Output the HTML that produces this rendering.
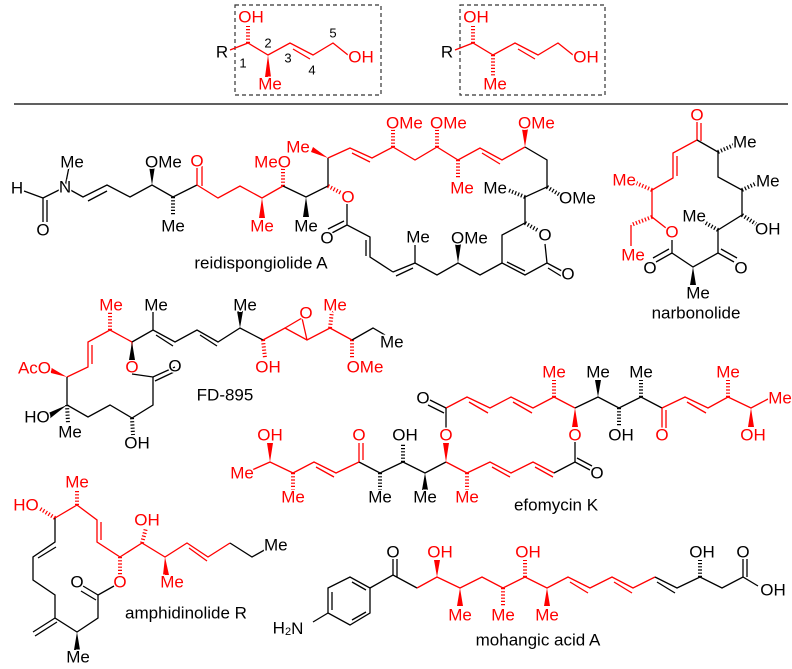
<!DOCTYPE html>
<html><head><meta charset="utf-8"><style>
html,body{margin:0;padding:0;background:#fff}
svg{display:block}
line,polyline{stroke:#000;stroke-width:1.3;fill:none}
.r{stroke:#f00}
.h{stroke-width:4;stroke-dasharray:1.2 2}
polygon{fill:#000}
polygon.r{fill:#f00;stroke:none}
polygon.ring{fill:none;stroke:#000;stroke-width:1.3}
text{font-family:"Liberation Sans",sans-serif;font-size:17px;text-anchor:middle;dominant-baseline:central;fill:#000;stroke:#fff;stroke-width:3;paint-order:stroke}
text.r{fill:#f00;stroke:#fff}
.s{text-anchor:start}.e{text-anchor:end}
.n{font-size:13px}
</style></head><body>
<svg width="792" height="669" viewBox="0 0 792 669" xmlns="http://www.w3.org/2000/svg">
<!-- top motifs -->
<rect x="235" y="5" width="146" height="90" fill="none" stroke="#333" stroke-width="1.2" stroke-dasharray="4 3"/>
<rect x="460" y="5" width="145" height="90" fill="none" stroke="#333" stroke-width="1.2" stroke-dasharray="4 3"/>
<polyline class="r" points="230,50 248,43 268,55 290,43 313,55 333,43 348,55"/>
<line class="r" x1="293" y1="49" x2="310" y2="59"/>
<line class="r h" x1="248" y1="43" x2="248" y2="26"/>
<polygon class="r" points="268,55 265,77 271,77"/>
<text x="222" y="52">R</text><text class="r" x="251" y="17">OH</text><text class="r" x="270" y="84">Me</text><text class="r" x="361" y="57">OH</text>
<text class="n" x="243" y="63">1</text><text class="n" x="268" y="43">2</text><text class="n" x="288" y="58">3</text><text class="n" x="312" y="70">4</text><text class="n" x="333" y="33">5</text>
<polyline class="r" points="455,50 473,43 493,55 515,43 538,55 558,43 573,55"/>
<line class="r" x1="518" y1="49" x2="535" y2="59"/>
<line class="r h" x1="473" y1="43" x2="473" y2="26"/>
<line class="r h" x1="493" y1="55" x2="493" y2="76"/>
<text x="447" y="52">R</text><text class="r" x="476" y="17">OH</text><text class="r" x="495" y="84">Me</text><text class="r" x="586" y="57">OH</text>
<line x1="14" y1="104" x2="788" y2="104" stroke-width="1.2"/>

<!-- reidispongiolide A -->
<line x1="24" y1="191" x2="43" y2="198"/><line x1="43" y1="198" x2="43" y2="222"/><line x1="47" y1="200" x2="47" y2="222"/>
<line x1="43" y1="198" x2="65" y2="187"/><line x1="65" y1="187" x2="70" y2="162"/>
<polyline points="65,187 83,197 107,185 130,197 152,185 173,197 197,185"/>
<line x1="88" y1="201" x2="107" y2="191"/>
<polygon points="152,185 149,166 155,166"/>
<line class="h" x1="173" y1="197" x2="173" y2="216"/>
<text x="17" y="188">H</text><text x="43" y="230">O</text><text x="65" y="187">N</text><text x="72" y="162">Me</text>
<text class="s" x="145" y="162">OMe</text><text x="173" y="226">Me</text>
<polyline class="r" points="197,185 218,198 240,186 262,198 283,186"/>
<line class="r" x1="197" y1="185" x2="197" y2="164"/><line class="r" x1="202" y1="186" x2="202" y2="166"/>
<text class="r" x="197" y="161">O</text>
<polygon class="r" points="262,198 259,218 265,218"/><text class="r" x="262" y="226">Me</text>
<line class="r h" x1="283" y1="186" x2="283" y2="168"/><text class="r e" x="291" y="162">MeO</text>
<polyline points="283,186 306,197 328,186 328,158"/>
<polygon points="306,197 303,217 309,217"/><text x="306" y="226">Me</text>
<line class="r h" x1="328" y1="186" x2="343" y2="194"/><text class="r" x="348" y="197">O</text>
<polyline points="347,204 347,225 370,237 370,257 393,272"/>
<line x1="347" y1="225" x2="330" y2="234"/><line x1="344" y1="221" x2="328" y2="229"/><text x="327" y="238">O</text>
<line x1="366" y1="240" x2="366" y2="256"/>
<polygon class="r" points="328,158 313,147 311,152"/><text class="r" x="298" y="147">Me</text>
<polyline class="r" points="328,158 350,148 372,158 393,147 415,160 437,147 458,160 480,148 502,160 525,147"/>
<line class="r" x1="352" y1="153" x2="370" y2="162"/><line class="r" x1="482" y1="153" x2="500" y2="164"/>
<line class="r h" x1="393" y1="147" x2="393" y2="129"/><text class="r s" x="386" y="123">OMe</text>
<line class="r h" x1="437" y1="147" x2="437" y2="129"/><text class="r s" x="430" y="123">OMe</text>
<polygon class="r" points="525,147 522,129 528,129"/><text class="r s" x="518" y="123">OMe</text>
<line class="r h" x1="458" y1="160" x2="458" y2="179"/><text class="r" x="462" y="188">Me</text>
<polyline points="525,147 547,160 547,187 525,197 525,223 502,235 502,263 525,275 547,263 545,244"/>
<line x1="507" y1="262" x2="525" y2="271"/>
<line class="h" x1="525" y1="197" x2="508" y2="190"/><text class="e" x="507" y="188">Me</text>
<line class="h" x1="547" y1="187" x2="560" y2="195"/><text class="s" x="559" y="198">OMe</text>
<line class="h" x1="525" y1="223" x2="539" y2="231"/><text x="545" y="235">O</text>
<line x1="547" y1="263" x2="562" y2="271"/><line x1="548" y1="268" x2="561" y2="276"/><text x="568" y="274">O</text>
<polyline points="502,263 480,275 458,263 437,275 415,263 393,272"/>
<line x1="413" y1="268" x2="396" y2="276"/>
<polygon points="458,263 455,244 461,244"/><text class="s" x="451" y="238">OMe</text>
<line x1="415" y1="263" x2="415" y2="245"/><text x="418" y="237">Me</text>
<text x="261" y="263">reidispongiolide A</text>

<!-- narbonolide -->
<polyline class="r" points="697,140 673,153 673,178 652,190 652,217 666,228"/>
<line class="r" x1="697" y1="140" x2="697" y2="122"/><line class="r" x1="701" y1="141" x2="701" y2="123"/>
<line class="r" x1="677" y1="156" x2="677" y2="176"/>
<text class="r" x="697" y="115">O</text><text class="r" x="672" y="232">O</text>
<line class="r h" x1="652" y1="190" x2="636" y2="183"/><text class="r e" x="636" y="180">Me</text>
<line class="r h" x1="652" y1="217" x2="631" y2="225"/><line class="r" x1="631" y1="225" x2="631" y2="246"/><text class="r" x="633" y="255">Me</text>
<polyline points="672,240 672,253 693,267 718,253 718,230 742,215 742,190 718,177 718,152 697,140"/>
<line x1="672" y1="253" x2="656" y2="262"/><line x1="669" y1="249" x2="653" y2="258"/><text x="650" y="268">O</text>
<line x1="718" y1="253" x2="734" y2="262"/><line x1="721" y1="249" x2="737" y2="258"/><text x="741" y="268">O</text>
<polygon points="693,267 690,285 696,285"/><text x="698" y="293">Me</text>
<line class="h" x1="718" y1="152" x2="734" y2="145"/><text class="s" x="733" y="142">Me</text>
<line class="h" x1="742" y1="190" x2="757" y2="183"/><text class="s" x="756" y="181">Me</text>
<line class="h" x1="742" y1="215" x2="756" y2="224"/><text class="s" x="755" y="229">OH</text>
<line class="h" x1="718" y1="230" x2="704" y2="222"/><text class="e" x="706" y="216">Me</text>
<text x="696" y="313">narbonolide</text>

<!-- FD-895 -->
<polyline class="r" points="67,377 88,367 88,342 110,330 132,342 132,360"/>
<line class="r" x1="92" y1="364" x2="92" y2="345"/>
<polygon class="r" points="67,377 50,367 51,373"/><text class="r e" x="51" y="368">AcO</text>
<line class="r h" x1="110" y1="330" x2="110" y2="312"/><text class="r" x="111" y="305">Me</text>
<text class="r" x="132" y="367">O</text>
<polyline points="132,374 153,377 175,367"/>
<line x1="155" y1="381" x2="174" y2="372"/><text x="175" y="366">O</text>
<polyline points="67,377 67,405 88,417 110,405 132,418 153,405 153,377"/>
<polygon points="67,405 46,414 48,420"/><text x="37" y="417">HO</text>
<line class="h" x1="67" y1="405" x2="68" y2="423"/><text x="70" y="432">Me</text>
<line class="h" x1="132" y1="418" x2="133" y2="435"/><text x="137" y="443">OH</text>
<polygon points="132,342 129,360 135,360"/>
<polyline points="132,342 153,330 175,342 197,330 218,342 240,328 263,340"/>
<line x1="156" y1="335" x2="173" y2="346"/><line x1="200" y1="335" x2="217" y2="346"/>
<line x1="153" y1="330" x2="153" y2="312"/><text x="156" y="305">Me</text>
<polygon points="240,328 237,311 243,311"/><text x="245" y="305">Me</text>
<polyline class="r" points="263,340 285,328 307,340 330,328 352,340"/>
<line class="r h" x1="263" y1="340" x2="265" y2="358"/><text class="r" x="268" y="367">OH</text>
<polyline class="r" points="285,328 302,318 307,340"/><text class="r" x="306" y="313">O</text>
<line class="r h" x1="330" y1="328" x2="332" y2="311"/><text class="r" x="335" y="305">Me</text>
<line class="r h" x1="352" y1="340" x2="352" y2="358"/><text class="r" x="365" y="367">OMe</text>
<polyline points="352,340 373,328 385,335"/><text class="s" x="380" y="342">Me</text>
<text x="225" y="395">FD-895</text>

<!-- efomycin K upper -->
<text x="423" y="398">O</text>
<line x1="446" y1="408" x2="430" y2="400"/><line x1="444" y1="413" x2="428" y2="405"/>
<polyline class="r" points="446,408 467,397 490,408 511,397 533,408 554,397"/>
<line class="r" x1="469" y1="402" x2="488" y2="413"/><line class="r" x1="513" y1="402" x2="532" y2="413"/>
<polyline class="r" points="554,397 575,408"/>
<polyline points="575,408 598,397 619,408 641,397 662,408"/>
<polyline class="r" points="662,408 685,397 708,408 728,397 751,408 768,399"/>
<line class="r" x1="687" y1="402" x2="706" y2="413"/>
<line class="r h" x1="554" y1="397" x2="554" y2="380"/><text class="r" x="554" y="372">Me</text>
<polygon class="r" points="575,408 572,427 578,427"/><text class="r" x="575" y="435">O</text>
<polygon points="598,397 595,380 601,380"/><text x="598" y="372">Me</text>
<line class="h" x1="619" y1="408" x2="619" y2="426"/><text x="621" y="435">OH</text>
<line class="h" x1="641" y1="397" x2="641" y2="380"/><text x="641" y="372">Me</text>
<line class="r" x1="662" y1="408" x2="662" y2="428"/><line class="r" x1="666" y1="410" x2="666" y2="428"/><text class="r" x="662" y="435">O</text>
<line class="r h" x1="728" y1="397" x2="728" y2="380"/><text class="r" x="728" y="372">Me</text>
<polygon class="r" points="751,408 748,427 754,427"/><text class="r" x="753" y="435">OH</text>
<text class="r" x="780" y="398">Me</text>
<line x1="446" y1="408" x2="446" y2="428"/>
<line x1="575" y1="442" x2="575" y2="462"/>
<!-- efomycin lower -->
<polyline class="r" points="252,470 270,462 293,473 314,462 336,473 359,462"/>
<line class="r" x1="316" y1="467" x2="334" y2="477"/>
<polyline points="359,462 380,473 403,462 425,473 446,462"/>
<polyline class="r" points="446,462 467,473 490,462 511,473 533,462 554,473"/>
<line class="r" x1="492" y1="467" x2="510" y2="477"/><line class="r" x1="535" y1="467" x2="553" y2="477"/>
<polyline points="554,473 575,462 590,470"/><line x1="577" y1="458" x2="592" y2="466"/>
<text x="597" y="473">O</text>
<text class="r" x="242" y="473">Me</text>
<polygon class="r" points="270,462 267,443 273,443"/><text class="r" x="270" y="435">OH</text>
<line class="r h" x1="293" y1="473" x2="293" y2="490"/><text class="r" x="293" y="497">Me</text>
<line class="r" x1="359" y1="462" x2="359" y2="443"/><line class="r" x1="363" y1="460" x2="363" y2="443"/><text class="r" x="359" y="435">O</text>
<line class="h" x1="380" y1="473" x2="380" y2="490"/><text x="380" y="497">Me</text>
<line class="h" x1="403" y1="462" x2="403" y2="443"/><text x="405" y="435">OH</text>
<polygon points="425,473 422,490 428,490"/><text x="425" y="497">Me</text>
<polygon class="r" points="446,462 443,443 449,443"/><text class="r" x="446" y="435">O</text>
<line class="r h" x1="467" y1="473" x2="467" y2="490"/><text class="r" x="467" y="497">Me</text>
<text x="556" y="505">efomycin K</text>

<!-- amphidinolide R -->
<polyline class="r" points="55,518 77,505 97,520 97,542 120,557 142,543 165,557 187,543 208,557 230,543"/>
<line class="r" x1="101" y1="522" x2="101" y2="540"/><line class="r" x1="189" y1="548" x2="207" y2="561"/>
<line class="r h" x1="55" y1="518" x2="39" y2="508"/><text class="r" x="26" y="505">HO</text>
<line class="r h" x1="77" y1="505" x2="77" y2="490"/><text class="r" x="77" y="482">Me</text>
<line class="r h" x1="120" y1="557" x2="120" y2="575"/><text class="r" x="120" y="582">O</text>
<line class="r h" x1="142" y1="543" x2="146" y2="528"/><text class="r" x="147" y="520">OH</text>
<polygon class="r" points="165,557 163,575 169,575"/><text class="r" x="172" y="582">Me</text>
<polyline points="230,543 252,557 268,548"/><text class="s" x="264" y="545">Me</text>
<polyline points="55,518 55,542 33,557 33,580 55,595 55,618 77,632 98,618 98,595 114,586"/>
<line x1="38" y1="558" x2="56" y2="547"/>
<line x1="55" y1="618" x2="33" y2="632"/><line x1="57" y1="622" x2="35" y2="636"/>
<polygon points="77,632 74,650 80,650"/><text x="78" y="657">Me</text>
<line x1="98" y1="595" x2="83" y2="586"/><line x1="96" y1="600" x2="81" y2="591"/><text x="77" y="582">O</text>
<text x="186" y="613">amphidinolide R</text>

<!-- mohangic acid A -->
<polygon class="ring" points="328,588 350,577 370,588 370,613 350,625 328,613"/>
<line x1="332" y1="592" x2="332" y2="610"/><line x1="352" y1="582" x2="366" y2="590"/><line x1="352" y1="620" x2="366" y2="612"/>
<line x1="313" y1="622" x2="328" y2="613"/>
<text x="288" y="628">H<tspan font-size="11" dy="4">2</tspan><tspan dy="-4">N</tspan></text>
<polyline points="370,588 393,575 417,588"/>
<line x1="393" y1="575" x2="393" y2="559"/><line x1="397" y1="577" x2="397" y2="559"/><text x="393" y="552">O</text>
<polyline class="r" points="417,588 437,577 460,588 482,577 503,588 525,577 547,588 568,577 590,588 612,577 633,588 655,577"/>
<line class="r" x1="570" y1="582" x2="588" y2="593"/><line class="r" x1="614" y1="582" x2="632" y2="593"/>
<polygon class="r" points="437,577 434,560 440,560"/><text class="r" x="440" y="552">OH</text>
<polygon class="r" points="460,588 457,606 463,606"/><text class="r" x="460" y="615">Me</text>
<line class="r h" x1="503" y1="588" x2="503" y2="606"/><text class="r" x="503" y="615">Me</text>
<line class="r h" x1="525" y1="577" x2="525" y2="560"/><text class="r" x="528" y="552">OH</text>
<polygon class="r" points="547,588 544,606 550,606"/><text class="r" x="547" y="615">Me</text>
<polyline points="655,577 677,588 700,577 722,588 743,577 758,586"/>
<line x1="657" y1="582" x2="675" y2="593"/>
<line class="h" x1="700" y1="577" x2="700" y2="560"/><text x="702" y="552">OH</text>
<line x1="743" y1="577" x2="743" y2="559"/><line x1="747" y1="577" x2="747" y2="559"/><text x="743" y="552">O</text>
<text x="773" y="590">OH</text>
<text x="538" y="640">mohangic acid A</text>
</svg>
</body></html>
